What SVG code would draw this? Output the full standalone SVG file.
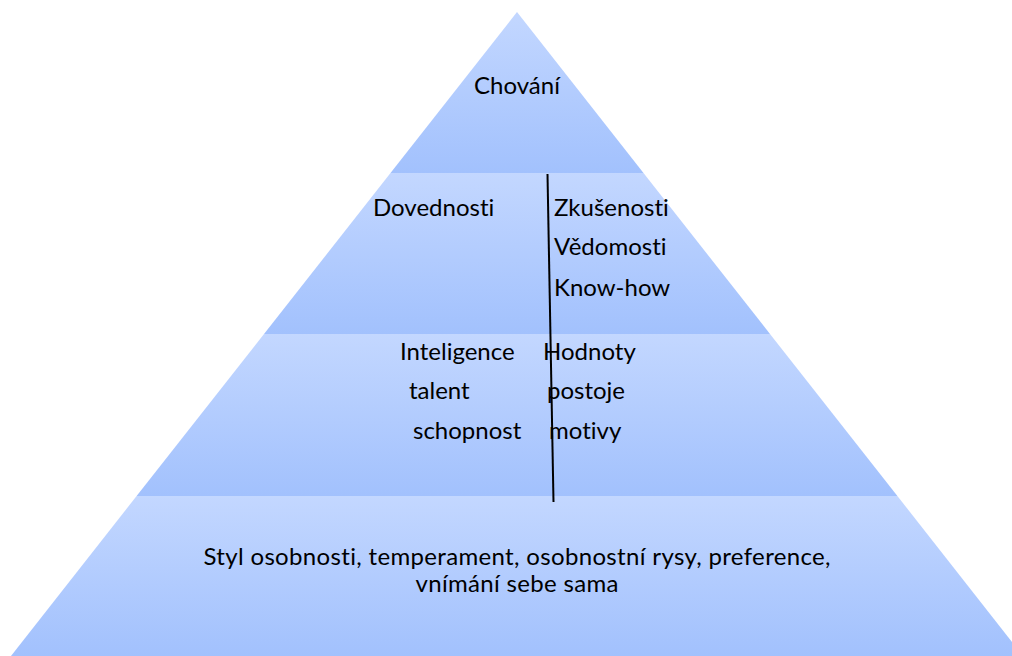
<svg xmlns="http://www.w3.org/2000/svg" width="1012" height="656" viewBox="0 0 1012 656">
  <defs>
    <linearGradient id="band" x1="0" y1="0" x2="0" y2="1">
      <stop offset="0" stop-color="#c3d7ff"/>
      <stop offset="1" stop-color="#a2c1fd"/>
    </linearGradient>
    <style>
      .layer { fill: url(#band); }
      .lbl { font-family: Lato, "Liberation Sans", sans-serif; font-size: 24px; fill: #000; font-variant-ligatures: none; font-feature-settings: "liga" 0; }
      .mid { text-anchor: middle; }
      .divider { stroke: #000; stroke-width: 2; fill: none; }
    </style>
  </defs>
  <rect width="1012" height="656" fill="#fff"/>

  <!-- top: behaviour -->
  <g id="layer-behaviour">
    <polygon class="layer" points="517,12 643.5,173 390.5,173"/>
    <text class="lbl mid" x="517" y="94">Chování</text>
  </g>

  <!-- second: skills and knowledge -->
  <g id="layer-skills">
    <polygon class="layer" points="390.5,173 643.5,173 770,334 264,334"/>
    <text class="lbl" x="373" y="216">Dovednosti</text>
    <text class="lbl" x="554" y="216">Zkušenosti</text>
    <text class="lbl" x="554" y="255">Vědomosti</text>
    <text class="lbl" x="554" y="296">Know-how</text>
  </g>

  <!-- third: abilities and values -->
  <g id="layer-abilities">
    <polygon class="layer" points="264,334 770,334 897.4,496 136.6,496"/>
    <text class="lbl" x="400" y="360">Inteligence</text>
    <text class="lbl" x="409" y="399">talent</text>
    <text class="lbl" x="413" y="439">schopnost</text>
    <text class="lbl" x="543" y="360">Hodnoty</text>
    <text class="lbl" x="547" y="399">postoje</text>
    <text class="lbl" x="549" y="439">motivy</text>
  </g>

  <!-- base: personality -->
  <g id="layer-personality">
    <polygon class="layer" points="136.6,496 897.4,496 1023,656 11,656"/>
    <text class="lbl mid" x="517" y="565" textLength="627" lengthAdjust="spacing">Styl osobnosti, temperament, osobnostní rysy, preference,</text>
    <text class="lbl mid" x="517" y="592" textLength="203" lengthAdjust="spacing">vnímání sebe sama</text>
  </g>

  <g id="connectors">
    <line class="divider" x1="547.5" y1="174" x2="553.5" y2="502"/>
  </g>
</svg>
